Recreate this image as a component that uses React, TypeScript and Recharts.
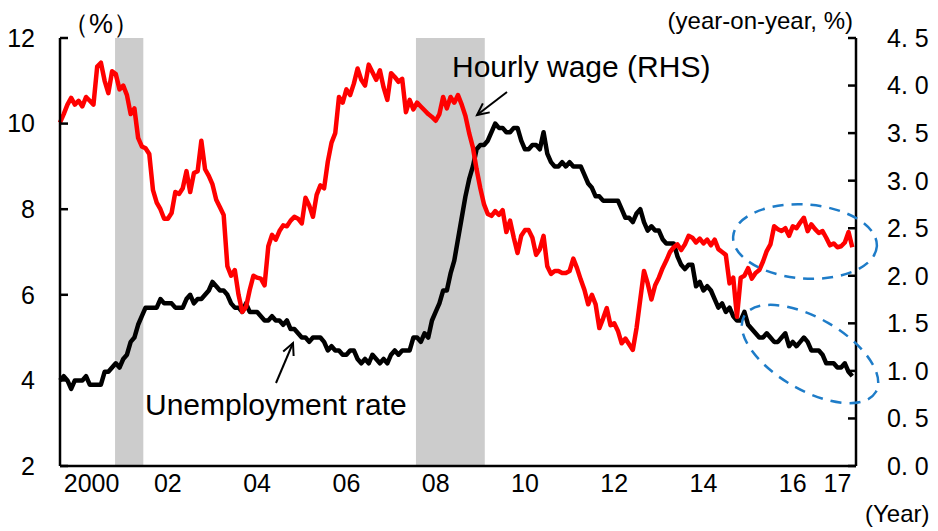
import React from "react";
import { ComposedChart, Line, XAxis, YAxis, ReferenceArea } from "recharts";

// monthly, Jan 2000 - Oct 2017
const unemploymentRate = [
  4.0, 4.1, 4.0, 3.8, 4.0, 4.0, 4.0, 4.1, 3.9, 3.9, 3.9, 3.9,
  4.2, 4.2, 4.3, 4.4, 4.3, 4.5, 4.6, 4.9, 5.0, 5.3, 5.5, 5.7,
  5.7, 5.7, 5.7, 5.9, 5.8, 5.8, 5.8, 5.7, 5.7, 5.7, 5.9, 6.0,
  5.8, 5.9, 5.9, 6.0, 6.1, 6.3, 6.2, 6.1, 6.1, 6.0, 5.8, 5.7,
  5.7, 5.6, 5.8, 5.6, 5.6, 5.6, 5.5, 5.4, 5.4, 5.5, 5.4, 5.4,
  5.3, 5.4, 5.2, 5.2, 5.1, 5.0, 5.0, 4.9, 5.0, 5.0, 5.0, 4.9,
  4.7, 4.8, 4.7, 4.7, 4.6, 4.6, 4.7, 4.7, 4.5, 4.4, 4.5, 4.4,
  4.6, 4.5, 4.4, 4.5, 4.4, 4.6, 4.7, 4.6, 4.7, 4.7, 4.7, 5.0,
  5.0, 4.9, 5.1, 5.0, 5.4, 5.6, 5.8, 6.1, 6.1, 6.5, 6.8, 7.3,
  7.8, 8.3, 8.7, 9.0, 9.4, 9.5, 9.5, 9.6, 9.8, 10.0, 9.9, 9.9,
  9.8, 9.8, 9.9, 9.9, 9.6, 9.4, 9.4, 9.5, 9.5, 9.4, 9.8, 9.3,
  9.1, 9.0, 9.0, 9.1, 9.0, 9.1, 9.0, 9.0, 9.0, 8.8, 8.6, 8.5,
  8.3, 8.3, 8.2, 8.2, 8.2, 8.2, 8.2, 8.0, 7.8, 7.8, 7.7, 7.9,
  8.0, 7.7, 7.5, 7.6, 7.5, 7.5, 7.3, 7.2, 7.2, 7.2, 6.9, 6.7,
  6.6, 6.7, 6.7, 6.2, 6.3, 6.1, 6.2, 6.1, 5.9, 5.7, 5.8, 5.6,
  5.7, 5.5, 5.4, 5.4, 5.6, 5.3, 5.2, 5.1, 5.0, 5.0, 5.1, 5.0,
  4.9, 4.9, 5.0, 5.1, 4.8, 4.9, 4.8, 4.9, 5.0, 4.9, 4.7, 4.7,
  4.7, 4.6, 4.4, 4.4, 4.4, 4.3, 4.3, 4.4, 4.2, 4.1,
];

// hourly wage, year-on-year %
const hourlyWage = [
  3.61, 3.70, 3.80, 3.87, 3.80, 3.84, 3.78, 3.88, 3.84, 3.80, 4.20, 4.24,
  4.05, 3.92, 4.15, 4.12, 3.96, 4.00, 3.90, 3.70, 3.76, 3.45, 3.36, 3.34,
  3.28, 2.90, 2.77, 2.70, 2.60, 2.60, 2.66, 2.88, 2.86, 2.92, 3.10, 2.88,
  3.08, 3.10, 3.42, 3.12, 3.05, 2.96, 2.80, 2.72, 2.64, 2.10, 2.00, 2.06,
  1.80, 1.62, 1.67, 1.85, 2.00, 1.98, 1.97, 1.90, 2.31, 2.43, 2.38, 2.47,
  2.53, 2.52, 2.58, 2.62, 2.60, 2.55, 2.82, 2.74, 2.62, 2.85, 2.95, 2.92,
  3.20, 3.40, 3.50, 3.88, 3.82, 3.96, 3.90, 4.02, 4.18, 4.06, 4.00, 4.22,
  4.14, 4.06, 4.16, 3.98, 3.85, 4.13, 4.09, 4.04, 4.07, 3.72, 3.85, 3.75,
  3.82, 3.78, 3.74, 3.70, 3.67, 3.63, 3.70, 3.88, 3.76, 3.88, 3.82, 3.90,
  3.80, 3.68, 3.50, 3.35, 3.12, 2.92, 2.75, 2.65, 2.63, 2.68, 2.64, 2.69,
  2.46, 2.58, 2.40, 2.24, 2.42, 2.48, 2.48, 2.40, 2.22, 2.28, 2.42, 2.10,
  2.02, 2.05, 2.05, 2.03, 2.03, 2.05, 2.18, 2.08, 1.96, 1.85, 1.70, 1.80,
  1.70, 1.45, 1.55, 1.66, 1.48, 1.50, 1.42, 1.29, 1.34, 1.28, 1.22, 1.45,
  1.75, 2.05, 1.92, 1.75, 1.90, 1.98, 2.08, 2.16, 2.25, 2.30, 2.33, 2.27,
  2.33, 2.42, 2.40, 2.35, 2.39, 2.34, 2.38, 2.32, 2.38, 2.28, 2.25, 2.22,
  1.92, 1.98, 1.57, 1.98, 2.00, 2.08, 1.97, 2.03, 2.06, 2.15, 2.26, 2.33,
  2.52, 2.49, 2.47, 2.50, 2.42, 2.52, 2.50, 2.56, 2.61, 2.47, 2.54, 2.49,
  2.45, 2.47, 2.40, 2.32, 2.34, 2.30, 2.31, 2.35, 2.46, 2.30,
];

// month index where each year label sits
const xTickMonths = [8.5, 29, 53, 77, 101, 125, 149, 173, 197, 209];
const xTickLabels = ["2000", "02", "04", "06", "08", "10", "12", "14", "16", "17"];

const leftTicks = [2, 4, 6, 8, 10, 12];
const rightTicks = [0, 0.5, 1, 1.5, 2, 2.5, 3, 3.5, 4, 4.5];
const rightTickLabels = ["0. 0", "0. 5", "1. 0", "1. 5", "2. 0", "2. 5", "3. 0", "3. 5", "4. 0", "4. 5"];

// recessions (month index start / end)
const recessionStart = [14.8, 95.7];
const recessionEnd = [22.4, 114.2];

const data = unemploymentRate.map((u, i) => ({
  m: i,
  unemployment: u,
  wage: hourlyWage[i],
}));

const W = 930;
const H = 523;
const tickFont = { fontSize: 25, fill: "#000", fontFamily: "'Liberation Sans', Arial, sans-serif" };
const labelFont = "'Liberation Sans', Arial, sans-serif";

function Arrow({ x1, y1, x2, y2 }: { x1: number; y1: number; x2: number; y2: number }) {
  const ang = Math.atan2(y2 - y1, x2 - x1);
  const len = 13;
  const spread = 0.45;
  const a1 = ang + Math.PI - spread;
  const a2 = ang + Math.PI + spread;
  return (
    <g stroke="#000" strokeWidth={2} fill="none">
      <line x1={x1} y1={y1} x2={x2} y2={y2} />
      <polyline
        points={`${x2 + len * Math.cos(a1)},${y2 + len * Math.sin(a1)} ${x2},${y2} ${x2 + len * Math.cos(a2)},${y2 + len * Math.sin(a2)}`}
      />
    </g>
  );
}

export default function App() {
  return (
    <div style={{ position: "relative", width: W, height: H }}>
      <ComposedChart
        width={W}
        height={H}
        data={data}
        margin={{ top: 30, right: 0, bottom: 35, left: 0 }}
      >
        <XAxis
          dataKey="m"
          type="number"
          domain={[0, 214]}
          ticks={xTickMonths}
          interval={0}
          tickFormatter={(v: number) => xTickLabels[xTickMonths.indexOf(v)]}
          tickLine={false}
          tickSize={0}
          tickMargin={8}
          height={30}
          axisLine={{ stroke: "#000", strokeWidth: 2.5 }}
          tick={tickFont}
        />
        <YAxis
          yAxisId="l"
          orientation="left"
          domain={[2, 12]}
          ticks={leftTicks}
          interval={0}
          width={52}
          tickSize={-8}
          tickMargin={33}
          axisLine={{ stroke: "#000", strokeWidth: 2.5 }}
          tickLine={{ stroke: "#000", strokeWidth: 2.5 }}
          tick={tickFont}
        />
        <YAxis
          yAxisId="r"
          orientation="right"
          domain={[0, 4.5]}
          ticks={rightTicks}
          interval={0}
          width={82}
          tickSize={-8}
          tickMargin={39}
          tickFormatter={(v: number) => rightTickLabels[rightTicks.indexOf(v)]}
          axisLine={{ stroke: "#000", strokeWidth: 2.5 }}
          tickLine={{ stroke: "#000", strokeWidth: 2.5 }}
          tick={tickFont}
        />
        {recessionStart.map((s, i) => (
          <ReferenceArea
            key={i}
            yAxisId="l"
            x1={s}
            x2={recessionEnd[i]}
            y1={2}
            y2={12}
            fill="#cccccc"
            fillOpacity={1}
            stroke="none"
          />
        ))}
        <Line
          yAxisId="l"
          dataKey="unemployment"
          stroke="#000"
          strokeWidth={4.5}
          dot={false}
          type="linear"
          strokeLinejoin="round"
          isAnimationActive={false}
        />
        <Line
          yAxisId="r"
          dataKey="wage"
          stroke="#ff0000"
          strokeWidth={4.5}
          dot={false}
          type="linear"
          strokeLinejoin="round"
          isAnimationActive={false}
        />
      </ComposedChart>

      {/* notes and markers on top */}
      <svg
        width={W}
        height={H}
        overflow="visible"
        style={{ position: "absolute", left: 0, top: 0, pointerEvents: "none", overflow: "visible" }}
      >
        <text x={54} y={25} fontSize={27} fontFamily={labelFont} fill="#000">
          （%）
        </text>
        <text x={845} y={21} fontSize={24} fontFamily={labelFont} textAnchor="end" fill="#000">
          (year-on-year, %)
        </text>
        <text x={857} y={514} fontSize={24} fontFamily={labelFont} fill="#000">
          (Year)
        </text>
        <text x={444} y={69} fontSize={30} fontFamily={labelFont} fill="#000">
          Hourly wage (RHS)
        </text>
        <text x={137} y={407} fontSize={30} fontFamily={labelFont} fill="#000">
          Unemployment rate
        </text>
        <Arrow x1={499} y1={84} x2={469} y2={107} />
        <Arrow x1={268} y1={375} x2={285} y2={335} />
        <ellipse
          cx={797}
          cy={233.5}
          rx={72}
          ry={37}
          transform="rotate(4 797 233.5)"
          fill="none"
          stroke="#1e7cc8"
          strokeWidth={2.5}
          strokeDasharray="11 8"
        />
        <ellipse
          cx={802}
          cy={346}
          rx={76}
          ry={36}
          transform="rotate(30 802 346)"
          fill="none"
          stroke="#1e7cc8"
          strokeWidth={2.5}
          strokeDasharray="11 8"
        />
      </svg>
    </div>
  );
}
